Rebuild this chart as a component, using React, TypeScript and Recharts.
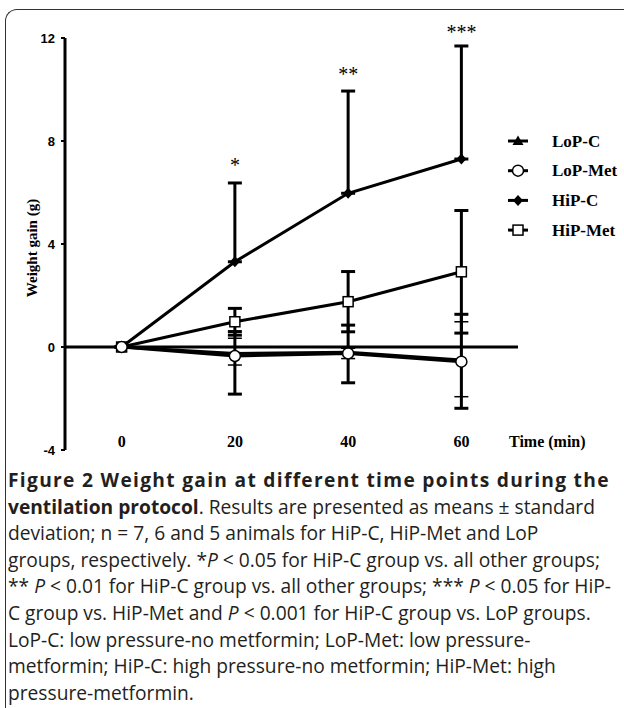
import React from 'react';
import { LineChart, Line, XAxis, YAxis, ErrorBar, ReferenceLine, ReferenceDot } from 'recharts';

// time points (min)
const time = [0, 20, 40, 60];

// means (g)
const lopC = [0, -0.25, -0.2, -0.5];
const lopMet = [0, -0.35, -0.25, -0.57];
const hipC = [0, 3.31, 5.97, 7.3];
const hipMet = [0, 0.98, 1.76, 2.92];

// error bars as [below, above] deltas
const lopCErr = [[0, 0], [1.58, 0.85], [1.19, 1.05], [1.88, 1.77]];
const lopMetErr = [[0, 0], [0.35, 0.69], [0.2, 0.2], [1.36, 1.55]];
const hipCErr = [[0, 0], [0, 3.06], [0, 3.97], [0, 4.39]];
const hipMetErr = [[0, 0], [0.52, 0.52], [1.17, 1.17], [2.38, 2.38]];

// significance marks
const sigTime = [20, 40, 60];
const sigLevel = [7.15, 10.68, 12.31];
const sigText = ['*', '**', '***'];

const yTicks = [-4, 0, 4, 8, 12];
const xTicks = [0, 20, 40, 60];

const serif = '"Liberation Serif", "Times New Roman", serif';
const sans = '"Liberation Sans", Arial, sans-serif';

const rows = time.map((t, i) => ({
  time: t,
  lopC: lopC[i],
  lopMet: lopMet[i],
  hipC: hipC[i],
  hipMet: hipMet[i],
  lopCErr: lopCErr[i],
  lopMetErr: lopMetErr[i],
  hipCErr: hipCErr[i],
  hipMetErr: hipMetErr[i],
}));

const Marker = ({ kind, cx, cy }: { kind: string; cx: number; cy: number }) => {
  if (kind === 'triangle') {
    return <polygon points={`${cx},${cy - 5.5} ${cx + 5.5},${cy + 4} ${cx - 5.5},${cy + 4}`} fill="#000" />;
  }
  if (kind === 'circle') {
    return <circle cx={cx} cy={cy} r={5.5} fill="#fff" stroke="#000" strokeWidth={1.5} />;
  }
  if (kind === 'diamond') {
    return <polygon points={`${cx},${cy - 5.5} ${cx + 5},${cy} ${cx},${cy + 5.5} ${cx - 5},${cy}`} fill="#000" />;
  }
  return <rect x={cx - 5} y={cy - 5} width={10} height={10} fill="#fff" stroke="#000" strokeWidth={1.5} />;
};

const series = [
  { key: 'hipC', name: 'HiP-C', kind: 'diamond', err: 'hipCErr', errW: 3 },
  { key: 'hipMet', name: 'HiP-Met', kind: 'square', err: 'hipMetErr', errW: 3 },
  { key: 'lopC', name: 'LoP-C', kind: 'triangle', err: 'lopCErr', errW: 3 },
  { key: 'lopMet', name: 'LoP-Met', kind: 'circle', err: 'lopMetErr', errW: 1.5 },
];

const legendOrder = ['lopC', 'lopMet', 'hipC', 'hipMet'];

const XTick = (props: any) => {
  const { x, y, payload } = props;
  return (
    <text x={x} y={y - 9} textAnchor="middle" dominantBaseline="central" fontFamily={serif} fontWeight="bold" fontSize={16} fill="#000">
      {payload.value}
    </text>
  );
};

const YLabel = (props: any) => {
  const vb = props.viewBox || { x: 35, y: 38, height: 412 };
  const cx = vb.x - 3;
  const cy = vb.y + 210;
  return (
    <text
      x={cx}
      y={cy}
      transform={`rotate(-90, ${cx}, ${cy})`}
      textAnchor="middle"
      dominantBaseline="central"
      fontFamily={serif}
      fontWeight="bold"
      fontSize={15}
      fill="#000"
    >
      Weight gain (g)
    </text>
  );
};

const line: React.CSSProperties = { whiteSpace: 'nowrap' };

export default function App() {
  return (
    <div style={{ position: 'absolute', left: 0, top: 0, width: 624, height: 708, overflow: 'hidden', background: '#fff' }}>
      <div
        style={{
          position: 'absolute',
          left: 5,
          top: 9,
          width: 700,
          height: 800,
          borderTop: '1.5px solid #333',
          borderLeft: '1.5px solid #333',
          borderTopLeftRadius: 12,
        }}
      />
      <div style={{ position: 'absolute', left: 0, top: 0 }}>
        <LineChart width={624} height={470} data={rows} margin={{ top: 38, right: 106, left: 35, bottom: 0 }}>
          <XAxis
            type="number"
            dataKey="time"
            domain={[-10, 70]}
            ticks={xTicks}
            axisLine={false}
            tickLine={false}
            tickSize={0}
            tickMargin={0}
            height={20}
            tick={<XTick />}
          />
          <YAxis
            type="number"
            domain={[-4, 12]}
            ticks={yTicks}
            width={30}
            axisLine={{ stroke: '#000', strokeWidth: 3 }}
            tickLine={{ stroke: '#000', strokeWidth: 2 }}
            tickSize={4}
            tickMargin={6}
            tick={{ fill: '#000', fontFamily: sans, fontWeight: 'bold', fontSize: 13 }}
            label={<YLabel />}
          />
          <ReferenceLine y={0} stroke="#000" strokeWidth={3} />
          {series.map((s) => (
            <Line
              key={s.key}
              type="linear"
              dataKey={s.key}
              stroke="#000"
              strokeWidth={3}
              isAnimationActive={false}
              dot={(p: any) => <Marker key={`${s.key}-${p.index}`} kind={s.kind} cx={p.cx} cy={p.cy} />}
              activeDot={false}
            >
              <ErrorBar dataKey={s.err} direction="y" width={7} stroke="#000" strokeWidth={s.errW} isAnimationActive={false} />
            </Line>
          ))}
          {sigTime.map((t, i) => (
            <ReferenceDot
              key={`sig-${t}`}
              x={t}
              y={sigLevel[i]}
              r={0}
              ifOverflow="visible"
              label={(p: any) => (
                <text
                  x={p.viewBox.cx ?? p.viewBox.x}
                  y={(p.viewBox.cy ?? p.viewBox.y) + 9}
                  textAnchor="middle"
                  fontFamily={serif}
                  fontSize={20}
                  fill="#000"
                >
                  {sigText[i]}
                </text>
              )}
            />
          ))}
        </LineChart>
      </div>
      <div
        style={{
          position: 'absolute',
          left: 509,
          top: 434,
          fontFamily: serif,
          fontWeight: 'bold',
          fontSize: 16,
          lineHeight: '16px',
          color: '#000',
          whiteSpace: 'nowrap',
        }}
      >
        Time (min)
      </div>
      <svg style={{ position: 'absolute', left: 500, top: 120 }} width={124} height={130}>
        {legendOrder.map((k, i) => {
          const s = series.find((q) => q.key === k)!;
          const y = 21 + i * 29.7;
          return (
            <g key={k}>
              <line x1={8} x2={28} y1={y} y2={y} stroke="#000" strokeWidth={3} />
              <Marker kind={s.kind} cx={18} cy={y} />
              <text x={52} y={y} dominantBaseline="central" fontFamily={serif} fontWeight="bold" fontSize={17} fill="#000">
                {s.name}
              </text>
            </g>
          );
        })}
      </svg>
      <div
        style={{
          position: 'absolute',
          left: 8,
          top: 467,
          width: 620,
          fontFamily: '"Open Sans", sans-serif',
          fontSize: 19.2,
          lineHeight: '26.6px',
          color: '#231f20',
        }}
      >
        <div style={{ ...line, letterSpacing: 1.3 }}>
          <b>Figure 2 Weight gain at different time points during the</b>
        </div>
        <div style={line}>
          <b>ventilation protocol</b>. Results are presented as means ± standard
        </div>
        <div style={line}>deviation; n = 7, 6 and 5 animals for HiP-C, HiP-Met and LoP</div>
        <div style={line}>
          groups, respectively. *<i>P</i> &lt; 0.05 for HiP-C group vs. all other groups;
        </div>
        <div style={line}>
          ** <i>P</i> &lt; 0.01 for HiP-C group vs. all other groups; *** <i>P</i> &lt; 0.05 for HiP-
        </div>
        <div style={line}>
          C group vs. HiP-Met and <i>P</i> &lt; 0.001 for HiP-C group vs. LoP groups.
        </div>
        <div style={line}>LoP-C: low pressure-no metformin; LoP-Met: low pressure-</div>
        <div style={line}>metformin; HiP-C: high pressure-no metformin; HiP-Met: high</div>
        <div style={line}>pressure-metformin.</div>
      </div>
    </div>
  );
}
